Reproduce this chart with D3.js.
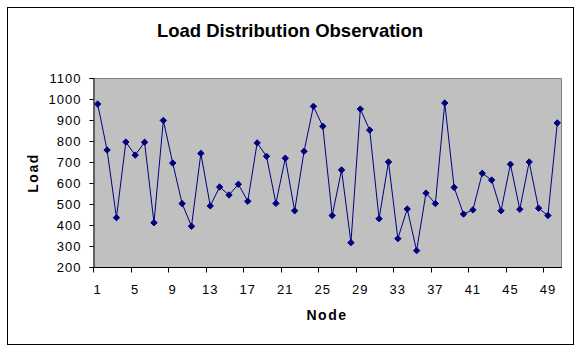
<!DOCTYPE html>
<html>
<head>
<meta charset="utf-8">
<script src="https://d3js.org/d3.v7.min.js"></script>
<style>
  body { margin: 0; background: #fff; }
  svg { display: block; }
</style>
</head>
<body>
<div id="chart"></div>
<script>
// Node numbers and observed load per node
const nodes = d3.range(1, 51);
const loads = [
    976, 757, 435, 795, 733, 794, 411, 898, 695, 502,
    394, 741, 491, 581, 543, 594, 513, 791, 727, 503,
    718, 468, 751, 965, 870, 445, 662, 316, 952, 852,
    430, 700, 335, 476, 278, 552, 502, 981, 579, 452,
    472, 646, 614, 468, 689, 475, 700, 480, 445, 886
];
const yTicks = [200, 300, 400, 500, 600, 700, 800, 900, 1000, 1100];
const xLabels = [1, 5, 9, 13, 17, 21, 25, 29, 33, 37, 41, 45, 49];

const width = 581, height = 351;
const plot = { left: 93, right: 562, top: 78, bottom: 267 };
const font = 'Liberation Sans, Arial, sans-serif';

const svg = d3.select('#chart')
    .append('svg')
    .attr('width', width)
    .attr('height', height);

// Outer chart border
svg.append('rect')
    .attr('x', 7.5).attr('y', 7.5)
    .attr('width', 566).attr('height', 337)
    .attr('fill', '#fff')
    .attr('stroke', '#000')
    .attr('stroke-width', 1);

// Title
svg.append('text')
    .attr('x', 290)
    .attr('y', 37)
    .attr('text-anchor', 'middle')
    .style('font-family', font)
    .style('font-weight', 'bold')
    .style('font-size', '18.5px')
    .text('Load Distribution Observation');

// Scales
const x = d3.scaleBand()
    .domain(nodes)
    .range([plot.left, plot.right]);

const y = d3.scaleLinear()
    .domain([200, 1100])
    .range([plot.bottom, plot.top]);

// Plot area
svg.append('rect')
    .attr('x', plot.left)
    .attr('y', plot.top + 0.5)
    .attr('width', plot.right - plot.left - 0.5)
    .attr('height', plot.bottom - plot.top - 0.5)
    .attr('fill', '#c0c0c0');

svg.append('path')
    .attr('d', `M${plot.left},${plot.top + 0.5}H${plot.right - 0.5}V${plot.bottom}`)
    .attr('fill', 'none')
    .attr('stroke', '#808080')
    .attr('stroke-width', 1);

// Y axis
const yAxis = svg.append('g')
    .attr('transform', `translate(${plot.left + 0.5},0)`)
    .call(d3.axisLeft(y)
        .tickValues(yTicks)
        .tickFormat(d3.format('d'))
        .tickSize(4)
        .tickPadding(8));

yAxis.select('.domain').attr('stroke', '#000');
yAxis.selectAll('.tick line').attr('stroke', '#000');
yAxis.selectAll('text')
    .style('font-family', font)
    .style('font-size', '13px')
    .style('letter-spacing', '1px')
    .attr('fill', '#000');

// X axis: ticks every 4 categories on boundaries, labels on category centres
const xAxis = svg.append('g')
    .attr('transform', `translate(0,${plot.bottom + 0.5})`);

xAxis.append('line')
    .attr('x1', plot.left).attr('x2', plot.right)
    .attr('stroke', '#000');

const tickNodes = nodes.filter(n => (n - 1) % 4 === 0);
xAxis.selectAll('.xtick')
    .data(tickNodes)
    .join('line')
    .attr('class', 'xtick')
    .attr('x1', d => Math.round(x(d)) + 0.5)
    .attr('x2', d => Math.round(x(d)) + 0.5)
    .attr('y1', 0)
    .attr('y2', 5)
    .attr('stroke', '#000');

xAxis.selectAll('.xlabel')
    .data(xLabels)
    .join('text')
    .attr('class', 'xlabel')
    .attr('x', d => x(d) + x.bandwidth() / 2)
    .attr('y', 26.5)
    .attr('text-anchor', 'middle')
    .style('font-family', font)
    .style('font-size', '13px')
    .style('letter-spacing', '1px')
    .text(d => d);

// Axis titles
svg.append('text')
    .attr('x', 327)
    .attr('y', 320)
    .attr('text-anchor', 'middle')
    .style('font-family', font)
    .style('font-weight', 'bold')
    .style('font-size', '14px')
    .style('letter-spacing', '1.5px')
    .text('Node');

svg.append('text')
    .attr('transform', 'translate(38,173) rotate(-90)')
    .attr('text-anchor', 'middle')
    .style('font-family', font)
    .style('font-weight', 'bold')
    .style('font-size', '14px')
    .style('letter-spacing', '1.5px')
    .text('Load');

// Series line
const cx = d => x(d) + x.bandwidth() / 2;
const line = d3.line()
    .x((d, i) => cx(nodes[i]))
    .y(d => y(d));

svg.append('path')
    .datum(loads)
    .attr('d', line)
    .attr('fill', 'none')
    .attr('stroke', '#000080')
    .attr('stroke-width', 1);

// Diamond markers
const diamond = d3.symbol().type(d3.symbolDiamond2).size(26);
svg.selectAll('.marker')
    .data(loads)
    .join('path')
    .attr('class', 'marker')
    .attr('transform', (d, i) => `translate(${cx(nodes[i])},${y(d)})`)
    .attr('d', diamond)
    .attr('fill', '#000080')
    .attr('stroke', '#000080')
    .attr('stroke-width', 1);
</script>
</body>
</html>
